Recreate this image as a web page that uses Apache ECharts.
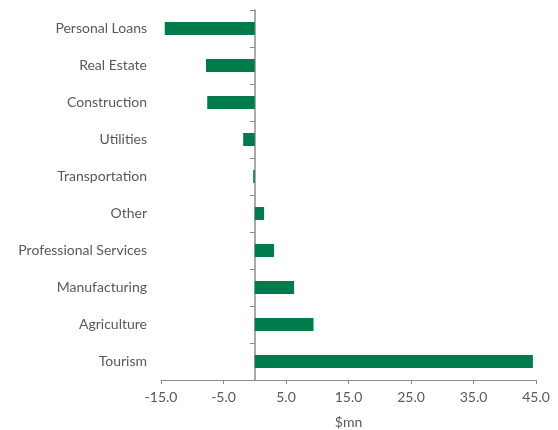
<!DOCTYPE html>
<html>
<head>
<meta charset="utf-8">
<script src="https://cdn.jsdelivr.net/npm/echarts@6/dist/echarts.min.js"></script>
<style>
  html, body { margin: 0; padding: 0; background: #fff; }
  #chart { width: 558px; height: 430px; }
</style>
</head>
<body>
<div id="chart"></div>
<script>
// Sectors, listed bottom to top as they appear on the category axis
const sectors = ['Tourism', 'Agriculture', 'Manufacturing', 'Professional Services', 'Other',
                 'Transportation', 'Utilities', 'Construction', 'Real Estate', 'Personal Loans'];
// Change by sector, $ million
const changeMn = [44.5, 9.4, 6.3, 3.1, 1.5, -0.25, -1.85, -7.6, -7.8, -14.4];
// Value axis range
const xMin = -15, xMax = 45, xStep = 10;

const textColor = '#595959';
const lineColor = '#8c8c8c';
const font = 'Lato, "Open Sans", sans-serif';

const chart = echarts.init(document.getElementById('chart'));
chart.setOption({
  animation: false,
  grid: { left: 161, right: 22, top: 10, bottom: 50, containLabel: false, outerBoundsMode: 'none' },
  xAxis: {
    type: 'value',
    min: xMin, max: xMax, interval: xStep,
    name: '$mn',
    nameLocation: 'middle',
    nameGap: 35,
    nameTextStyle: { color: textColor, fontSize: 14, fontFamily: font },
    axisLine: { show: true, onZero: false, lineStyle: { color: lineColor, width: 1 } },
    axisTick: { show: true, length: 4, lineStyle: { color: lineColor } },
    splitLine: { show: false },
    axisLabel: {
      color: textColor, fontSize: 14, fontFamily: font, margin: 10,
      formatter: v => v.toFixed(1)
    }
  },
  yAxis: [
    {
      // category labels along the left edge
      type: 'category',
      data: sectors,
      position: 'left',
      axisLine: { show: false, onZero: false },
      axisTick: { show: false },
      axisLabel: { color: textColor, fontSize: 14, fontFamily: font, margin: 14 }
    },
    {
      // axis line with band ticks drawn through zero
      type: 'category',
      data: sectors,
      position: 'left',
      axisLine: { show: true, onZero: true, lineStyle: { color: lineColor, width: 1.5 } },
      axisTick: { show: true, length: 5, lineStyle: { color: lineColor } },
      axisLabel: { show: false }
    }
  ],
  series: [{
    type: 'bar',
    yAxisIndex: 0,
    data: changeMn,
    barWidth: 13,
    itemStyle: { color: '#007B4B' },
    z: 1
  }]
});
</script>
</body>
</html>
